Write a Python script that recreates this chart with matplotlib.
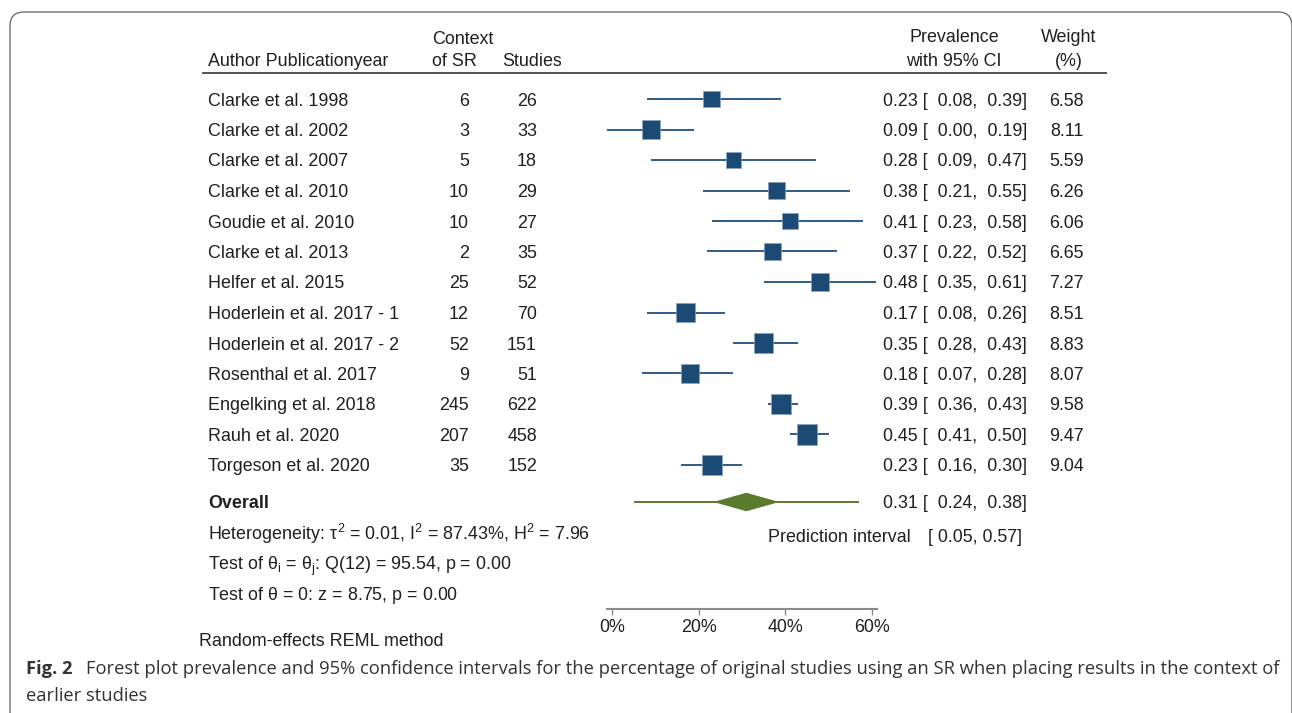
import numpy as np
import matplotlib
matplotlib.use("Agg")
import matplotlib.pyplot as plt
from matplotlib.transforms import Affine2D, blended_transform_factory
from matplotlib.patches import FancyBboxPatch

plt.rcParams['font.family'] = ['Liberation Sans', 'DejaVu Sans']
plt.rcParams['mathtext.fontset'] = 'custom'
plt.rcParams['mathtext.rm'] = 'Liberation Sans'
plt.rcParams['mathtext.it'] = 'Liberation Sans'

# Data
authors = ["Clarke et al. 1998", "Clarke et al. 2002", "Clarke et al. 2007",
           "Clarke et al. 2010", "Goudie et al. 2010", "Clarke et al. 2013",
           "Helfer et al. 2015", "Hoderlein et al. 2017 - 1", "Hoderlein et al. 2017 - 2",
           "Rosenthal et al. 2017", "Engelking et al. 2018", "Rauh et al. 2020",
           "Torgeson et al. 2020"]
context_sr = [6, 3, 5, 10, 10, 2, 25, 12, 52, 9, 245, 207, 35]
studies = [26, 33, 18, 29, 27, 35, 52, 70, 151, 51, 622, 458, 152]
prev = [0.23, 0.09, 0.28, 0.38, 0.41, 0.37, 0.48, 0.17, 0.35, 0.18, 0.39, 0.45, 0.23]
ci_lo = [0.08, -0.012, 0.09, 0.21, 0.23, 0.22, 0.35, 0.08, 0.28, 0.07, 0.36, 0.41, 0.16]
ci_hi = [0.39, 0.19, 0.47, 0.55, 0.58, 0.52, 0.61, 0.26, 0.43, 0.28, 0.43, 0.50, 0.30]
weight = [6.58, 8.11, 5.59, 6.26, 6.06, 6.65, 7.27, 8.51, 8.83, 8.07, 9.58, 9.47, 9.04]
overall = 0.31
overall_ci = (0.24, 0.38)
pred_int = (0.05, 0.57)
xticks = [0.0, 0.2, 0.4, 0.6]
xticklabels = ["0%", "20%", "40%", "60%"]

W, H = 1292, 713
fig = plt.figure(figsize=(W / 100, H / 100), dpi=100)
px = Affine2D().scale(1 / W, -1 / H).translate(0, 1) + fig.transFigure

txt_col = '#231f20'
blue = '#1b4a74'
blue_line = '#2d5b88'
green = '#5a7a2c'
fs = 12.9

# frame (right and bottom edges run off the image)
fig.patches.append(FancyBboxPatch((10, 12), 1282, 715, boxstyle="round,pad=0,rounding_size=14",
                                  transform=px, fill=False, edgecolor='#6e6e6e', lw=1.0))

# forest axes: row i sits at 99 + 30.5*i px
row0, step = 99, 30.5
ax = fig.add_axes([612 / W, (H - 609) / H, 260 / W, (609 - 80) / H])
ax.set_xlim(0, 0.6)
ax.set_ylim((609 - row0) / step, (80 - row0) / step)
ax.patch.set_visible(False)
for s in ['top', 'right', 'left']:
    ax.spines[s].set_visible(False)
ax.spines['bottom'].set_bounds(-0.0115, 0.6115)
ax.spines['bottom'].set_color('#8a8a8a')
ax.spines['bottom'].set_linewidth(1.5)
ax.set_yticks([])
ax.set_xticks(xticks)
ax.set_xticklabels(xticklabels, fontsize=fs, color=txt_col)
ax.tick_params(axis='x', color='#8a8a8a', length=4, width=1, pad=3)

rows = np.arange(len(authors))
ax.hlines(rows, ci_lo, ci_hi, color=blue_line, lw=1.4, clip_on=False)
side_pt = 6.55 * np.sqrt(weight) * 0.72
ax.scatter(prev, rows, marker='s', s=side_pt ** 2, color=blue, edgecolor='#8aa4c0',
           linewidth=0.5, zorder=3, clip_on=False)

y_ov = (502 - row0) / step
ax.hlines(y_ov, pred_int[0], pred_int[1], color=green, lw=1.4, clip_on=False)
hh = 8.5 / step
ax.fill([overall_ci[0], overall, overall_ci[1], overall],
        [y_ov, y_ov - hh, y_ov, y_ov + hh], color=green, zorder=3, clip_on=False)

# text columns
va = 'center_baseline'
tr = blended_transform_factory(Affine2D().scale(1 / W, 1) + fig.transFigure, ax.transData)
for i in rows:
    fig.text(208, i, authors[i], transform=tr, fontsize=fs, color=txt_col, va=va)
    fig.text(469, i, str(context_sr[i]), transform=tr, fontsize=fs, color=txt_col,
             va=va, ha='right')
    fig.text(537, i, str(studies[i]), transform=tr, fontsize=fs, color=txt_col,
             va=va, ha='right')
    fig.text(883, i, f"{prev[i]:.2f} [  {max(ci_lo[i], 0):.2f},  {ci_hi[i]:.2f}]",
             transform=tr, fontsize=fs, color=txt_col, va=va)
    fig.text(1084, i, f"{weight[i]:.2f}", transform=tr, fontsize=fs, color=txt_col,
             va=va, ha='right')

fig.text(208, y_ov, "Overall", transform=tr, fontsize=fs, color=txt_col, va=va,
         fontweight='bold')
fig.text(883, y_ov, f"{overall:.2f} [  {overall_ci[0]:.2f},  {overall_ci[1]:.2f}]",
         transform=tr, fontsize=fs, color=txt_col, va=va)

# headers
def ptext(x, y, s, **kw):
    kw.setdefault('fontsize', fs)
    kw.setdefault('color', txt_col)
    kw.setdefault('va', va)
    fig.text(x, y, s, transform=px, **kw)

ptext(208, 59, "Author Publicationyear")
ptext(432, 38, "Context")
ptext(432, 59, "of SR")
ptext(502, 60, "Studies")
ptext(954, 35, "Prevalence", ha='center')
ptext(954, 59, "with 95% CI", ha='center')
ptext(1069, 35, "Weight", ha='center')
ptext(1069, 59, "(%)", ha='center')
fig.add_artist(plt.Line2D([203, 1106], [73, 73], transform=px, color='#444444', lw=1.3))

# statistics
ptext(208, 531, r"Heterogeneity: $\tau^2$ = 0.01, $\mathregular{I^2}$ = 87.43%, $\mathregular{H^2}$ = 7.96")
ptext(208, 562, r"Test of $\theta_\mathregular{i}$ = $\theta_\mathregular{j}$: Q(12) = 95.54, p = 0.00")
ptext(208, 592, r"Test of $\theta$ = 0: z = 8.75, p = 0.00")
ptext(199, 640, "Random-effects REML method")
ptext(768, 536, "Prediction interval")
ptext(928, 536, f"[ {pred_int[0]:.2f}, {pred_int[1]:.2f}]")

# caption
cap_font = ['Open Sans', 'DejaVu Sans']
cap_col = '#333333'
cfs = 13.2
ptext(26, 667, "Fig. 2", family=cap_font, fontweight='bold', fontsize=cfs, color=cap_col)
ptext(86, 667, "Forest plot prevalence and 95% confidence intervals for the percentage of original "
      "studies using an SR when placing results in the context of", family=cap_font,
      fontsize=cfs, color=cap_col)
ptext(26, 694, "earlier studies", family=cap_font, fontsize=cfs, color=cap_col)

fig.savefig("out.png", dpi=100)
